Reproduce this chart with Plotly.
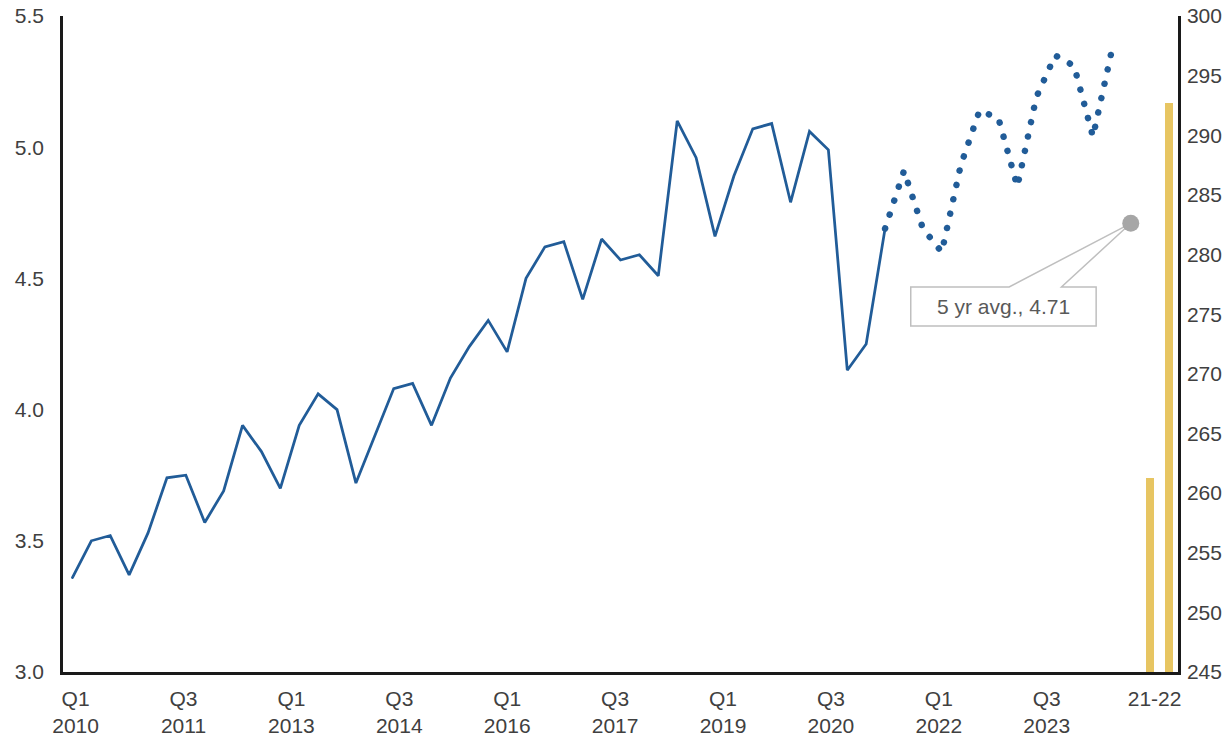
import plotly.graph_objects as go

# Category axis for the plotted series: quarters Q1 2010 - Q4 2023,
# then a slot for the average marker and the two annual bars
quarters = [f"Q{q} {y}" for y in range(2010, 2024) for q in range(1, 5)]
avg_slot = "5 yr avg."
bar_years = ["2021", "2022"]
categories = quarters + [avg_slot] + bar_years

# Actual values, Q1 2010 - Q4 2020
actual_values = [
    3.36, 3.50, 3.52, 3.37, 3.53, 3.74, 3.75, 3.57, 3.69, 3.94, 3.84, 3.70,
    3.94, 4.06, 4.00, 3.72, 3.90, 4.08, 4.10, 3.94, 4.12, 4.24, 4.34, 4.22,
    4.50, 4.62, 4.64, 4.42, 4.65, 4.57, 4.59, 4.51, 5.10, 4.96, 4.66, 4.89,
    5.07, 5.09, 4.79, 5.06, 4.99, 4.15, 4.25, 4.69,
]

# Projected values, Q4 2020 - Q4 2023 (starts from the last actual point)
projected_values = [4.69, 4.91, 4.69, 4.60, 4.93, 5.14, 5.11, 4.85, 5.19, 5.35, 5.31, 5.04, 5.37]

# Five-year average
avg_label = "5 yr avg., 4.71"
avg_value = 4.71

# Annual bars (right axis)
bar_values = [261.3, 292.7]

# Labels shown along the bottom axis; they sit on their own 62-slot grid
tick_labels = ["Q1<br>2010", "Q3<br>2011", "Q1<br>2013", "Q3<br>2014", "Q1<br>2016",
               "Q3<br>2017", "Q1<br>2019", "Q3<br>2020", "Q1<br>2022", "Q3<br>2023", "21-22"]
tick_slots = [0, 6, 12, 18, 24, 30, 36, 42, 48, 54, 60]
LABEL_GRID = 62
LABEL_GRID_START = -0.7

BLUE = "#215C98"
GOLD = "#E7C562"
GREY = "#A6A6A6"
AXIS = "#1A1A1A"
TEXT = "#404040"
FONT = "Liberation Sans, Arial, Helvetica, sans-serif"
FS = 21

n_actual = len(actual_values)
n_proj = len(projected_values)
n_cat = len(categories)

# map label-grid slots onto the series category axis (both span the full plot width)
tick_positions = [(s - LABEL_GRID_START) * n_cat / LABEL_GRID - 0.5 for s in tick_slots]

fig = go.Figure()

fig.add_trace(go.Bar(
    x=bar_years, y=bar_values, name="21-22",
    xaxis="x", yaxis="y2",
    width=0.424,
    marker=dict(color=GOLD, line=dict(width=0)),
    showlegend=False,
))

fig.add_trace(go.Scatter(
    x=quarters[:n_actual], y=actual_values, mode="lines",
    xaxis="x", yaxis="y",
    line=dict(color=BLUE, width=2.75),
    showlegend=False,
))

fig.add_trace(go.Scatter(
    x=quarters[n_actual - 1:n_actual - 1 + n_proj], y=projected_values, mode="lines",
    xaxis="x", yaxis="y",
    line=dict(color=BLUE, width=6.5, dash="0.1px,14.6px"),
    showlegend=False,
))

fig.add_trace(go.Scatter(
    x=[avg_slot], y=[avg_value], mode="markers",
    xaxis="x", yaxis="y",
    marker=dict(color=GREY, size=17, line=dict(width=0)),
    showlegend=False,
))

# Callout box with wedge pointing at the average marker (pixel offsets from the marker)
callout_path = ("M -220 -63.7 L -121.6 -63.7 L 0 0 L -69.3 -63.7 L -34.6 -63.7 "
                "L -34.6 -102.7 L -220 -102.7 Z")
fig.add_shape(
    type="path", path=callout_path,
    xref="x", yref="y", xsizemode="pixel", ysizemode="pixel",
    xanchor=avg_slot, yanchor=avg_value,
    line=dict(color="#BFBFBF", width=1.5), fillcolor="white", layer="below",
)
fig.add_annotation(
    x=avg_slot, y=avg_value, xref="x", yref="y",
    text=avg_label, showarrow=False,
    xshift=-127.3, yshift=-83.2,
    font=dict(family=FONT, size=FS, color="#595959"),
)

axis_common = dict(
    showgrid=False, zeroline=False, ticks="", automargin=False, fixedrange=True,
    showline=True, linecolor=AXIS, linewidth=2.5,
    tickfont=dict(family=FONT, size=FS, color=TEXT),
)

fig.update_layout(
    width=1224, height=740,
    margin=dict(l=63, r=46, t=16, b=68, autoexpand=False),
    paper_bgcolor="white", plot_bgcolor="white",
    font=dict(family=FONT, size=FS, color=TEXT),
    bargap=0,
    xaxis=dict(
        type="category", categoryorder="array", categoryarray=categories,
        range=[-0.5, n_cat - 0.5],
        tickmode="array", tickvals=tick_positions, ticktext=tick_labels,
        ticklabelstandoff=6, **axis_common,
    ),
    yaxis=dict(
        range=[3, 5.5], dtick=0.5, tick0=3, tickformat=".1f",
        ticklabelstandoff=12, **axis_common,
    ),
    yaxis2=dict(
        overlaying="y", side="right", anchor="x", range=[245, 300], dtick=5, tick0=245,
        ticklabelstandoff=2, **axis_common,
    ),
)

# Round caps turn the short dashes of the projected line into round dots
round_dots = """
document.querySelectorAll('path.js-line').forEach(function (p) {
  p.style.strokeLinecap = 'round';
});
"""

fig.write_html("out.html", config={"displayModeBar": False}, post_script=round_dots)
